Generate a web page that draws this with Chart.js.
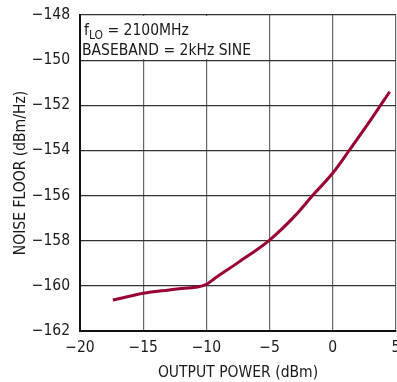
<!DOCTYPE html>
<html>
<head>
<meta charset="utf-8">
<script src="https://cdn.jsdelivr.net/npm/chart.js@4"></script>
<style>
  html, body { margin: 0; padding: 0; background: #fff; }
  #wrap { width: 397px; height: 382px; }
</style>
</head>
<body>
<div id="wrap"><canvas id="chart"></canvas></div>
<script>
const outputPower = [-17.4, -16, -15, -12.5, -10, -9.3, -7.5, -5, -3, -1.6, 0, 1.3, 3, 4.5];
const noiseFloor = [-160.63, -160.45, -160.33, -160.15, -159.93, -159.65, -158.97, -157.97, -156.9, -156.0, -155.0, -154.0, -152.65, -151.4];
const xTicks = [-20, -15, -10, -5, 0, 5];
const yTicks = [-162, -160, -158, -156, -154, -152, -150, -148];

const FONT = "'DejaVu Sans Condensed', 'Liberation Sans', Arial, sans-serif";
const FS = 15.5;
const minus = v => String(v).replace("-", "\u2212");

// white note box with the test conditions, drawn over the grid
const notePlugin = {
    id: "note",
    beforeDatasetsDraw(chart) {
        const ctx = chart.ctx;
        const a = chart.chartArea;
        ctx.save();
        ctx.fillStyle = "#fff";
        ctx.fillRect(a.left + 1, a.top + 1, 175, 43);
        ctx.fillStyle = "#1a1a1a";
        ctx.textBaseline = "alphabetic";
        ctx.font = FS + "px " + FONT;
        let x = a.left + 4;
        ctx.fillText("f", x, a.top + 20);
        x += ctx.measureText("f").width;
        ctx.font = "12px " + FONT;
        ctx.fillText("LO", x, a.top + 24);
        x += ctx.measureText("LO").width;
        ctx.font = FS + "px " + FONT;
        ctx.fillText(" = 2100MHz", x, a.top + 20);
        ctx.fillText("BASEBAND = 2kHz SINE", a.left + 2, a.top + 40);
        ctx.restore();
    }
};

new Chart(document.getElementById("chart").getContext("2d"), {
    type: "line",
    data: {
        datasets: [{
            data: outputPower.map((x, i) => ({ x: x, y: noiseFloor[i] })),
            borderColor: "#990033",
            borderWidth: 3,
            pointRadius: 0,
            fill: false,
            cubicInterpolationMode: "monotone"
        }]
    },
    options: {
        responsive: true,
        maintainAspectRatio: false,
        animation: false,
        layout: { padding: { top: 15, right: 1, left: 0, bottom: 0 } },
        plugins: {
            legend: { display: false },
            tooltip: { enabled: false }
        },
        scales: {
            x: {
                type: "linear",
                min: -20,
                max: 5,
                afterBuildTicks: s => { s.ticks = xTicks.map(v => ({ value: v })); },
                afterFit: s => { s.height = 51; s.paddingLeft = 0; s.paddingRight = 0; },
                ticks: {
                    callback: v => minus(v),
                    color: "#1a1a1a",
                    padding: 8,
                    maxRotation: 0,
                    autoSkip: false,
                    font: { family: FONT, size: FS }
                },
                grid: { color: "#666", lineWidth: 1.2, drawTicks: false },
                border: { color: "#111", width: 2 },
                title: {
                    display: true,
                    text: "OUTPUT POWER (dBm)",
                    color: "#1a1a1a",
                    padding: { top: 0, bottom: 0 },
                    font: { family: FONT, size: FS }
                }
            },
            y: {
                min: -162,
                max: -148,
                afterBuildTicks: s => { s.ticks = yTicks.map(v => ({ value: v })); },
                afterFit: s => { s.width = 80; s.paddingTop = 0; s.paddingBottom = 0; },
                ticks: {
                    callback: v => minus(v),
                    color: "#1a1a1a",
                    padding: 10,
                    autoSkip: false,
                    font: { family: FONT, size: FS }
                },
                grid: { color: "#333", lineWidth: 1.2, drawTicks: false },
                border: { color: "#111", width: 2 },
                title: {
                    display: true,
                    text: "NOISE FLOOR (dBm/Hz)",
                    color: "#1a1a1a",
                    padding: { top: 12, bottom: 0 },
                    font: { family: FONT, size: FS }
                }
            }
        }
    },
    plugins: [notePlugin]
});
</script>
</body>
</html>
